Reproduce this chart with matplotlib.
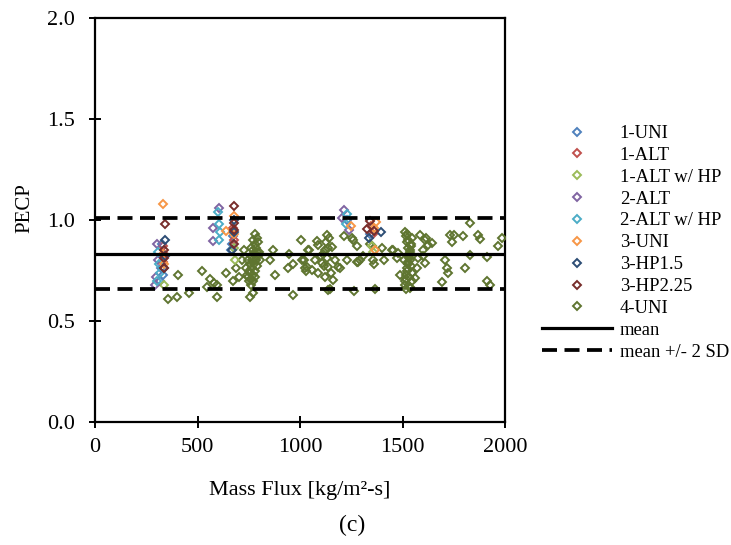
import matplotlib
matplotlib.use("Agg")
import matplotlib.pyplot as plt

plt.rcParams['font.family'] = ['Liberation Serif', 'DejaVu Serif']

# ---------------- data ----------------
series_names = ["1-UNI", "1-ALT", "1-ALT w/ HP", "2-ALT", "2-ALT w/ HP",
                "3-UNI", "3-HP1.5", "3-HP2.25", "4-UNI"]
series_colors = ["#4F81BD", "#C0504D", "#9BBB59", "#8064A2", "#4BACC6",
                 "#F79646", "#2C4D75", "#772C2A", "#5F7530"]

uni1_x = [318, 322, 325, 328, 330, 665, 672, 670, 1230, 1340]
uni1_y = [0.70, 0.76, 0.82, 0.88, 0.73, 0.85, 0.92, 0.88, 1.00, 0.93]

alt1_x = [330, 332, 335, 672, 676, 1345, 1355]
alt1_y = [0.87, 0.79, 0.83, 0.96, 0.90, 0.97, 0.93]

alt1hp_x = [335, 680, 682, 1350, 1358]
alt1hp_y = [0.68, 0.86, 0.80, 0.87, 0.84]

alt2_x = [300, 298, 295, 305, 578, 574, 605, 1213, 1205, 1240]
alt2_y = [0.88, 0.72, 0.68, 0.80, 0.96, 0.895, 1.06, 1.05, 1.01, 0.95]

alt2hp_x = [305, 310, 300, 315, 602, 605, 610, 605, 1229, 1222]
alt2hp_y = [0.84, 0.78, 0.70, 0.74, 1.04, 0.98, 0.94, 0.90, 1.03, 0.98]

uni3_x = [332, 330, 335, 637, 678, 678, 1249, 1372, 1360, 1365]
uni3_y = [1.08, 0.83, 0.78, 0.945, 1.02, 0.93, 0.97, 0.99, 0.96, 0.85]

hp15_x = [340, 340, 338, 678, 678, 670, 1395, 1335]
hp15_y = [0.90, 0.82, 0.76, 1.00, 0.94, 0.85, 0.94, 0.91]

hp225_x = [340, 335, 338, 336, 678, 678, 678, 676, 1343, 1327, 1359]
hp225_y = [0.98, 0.85, 0.81, 0.76, 1.07, 0.985, 0.88, 0.95, 0.995, 0.953, 0.945]

uni4_x = [405, 355, 400, 458, 523, 548, 563, 580, 596, 596, 641, 674, 690, 700, 715, 725,
          745, 750, 755, 760, 765, 770, 775, 780, 785, 790, 760, 770, 780, 790, 795,
          785, 775, 765, 755, 750, 740, 772, 782, 788, 795, 760, 748, 735, 760, 770,
          780, 756, 770, 805, 800,
          868, 856, 877, 945, 966, 940, 1005, 966, 1010, 1022, 1043, 1027, 1019,
          1130, 1089, 1122, 1155, 1171, 1187, 1138, 1106, 1073, 1041, 1033, 1057, 1089,
          1122, 1162, 1138, 1145, 1110, 1125, 1100, 1140, 1115, 1135, 1150, 1130, 1084,
          1213, 1254, 1278, 1229, 1294, 1197, 1262, 1260, 1285, 1309, 1276,
          1351, 1355, 1360, 1366, 1341, 1400, 1408, 1448, 1473, 1455,
          1510, 1515, 1520, 1525, 1530, 1535, 1540, 1545, 1510, 1515, 1520, 1525, 1530,
          1535, 1540, 1545, 1512, 1518, 1522, 1528, 1532, 1538, 1542, 1520, 1525, 1530,
          1515, 1535, 1505, 1548,
          1585, 1610, 1626, 1602, 1577, 1610, 1569, 1561, 1537, 1488, 1480, 1643, 1615,
          1732, 1707, 1715, 1723, 1691, 1741, 1749, 1797, 1830, 1805, 1830, 1870, 1878,
          1911, 1911, 1927, 1967, 1984, 1600]
uni4_y = [0.73, 0.61, 0.62, 0.64, 0.75, 0.67, 0.71, 0.69, 0.68, 0.62, 0.74, 0.70, 0.76, 0.72, 0.80, 0.85,
          0.72, 0.70, 0.74, 0.71, 0.76, 0.73, 0.78, 0.75, 0.80, 0.77, 0.82, 0.85, 0.88, 0.91, 0.89,
          0.86, 0.83, 0.80, 0.78, 0.75, 0.73, 0.90, 0.93, 0.84, 0.82, 0.86, 0.80, 0.76, 0.68, 0.70,
          0.72, 0.62, 0.64, 0.80, 0.84,
          0.85, 0.80, 0.73, 0.83, 0.78, 0.76, 0.90, 0.63, 0.80, 0.76, 0.85, 0.75, 0.80,
          0.926, 0.876, 0.851, 0.868, 0.80, 0.768, 0.768, 0.785, 0.80, 0.851, 0.768, 0.752, 0.736,
          0.719, 0.702, 0.653, 0.66, 0.83, 0.89, 0.82, 0.91, 0.77, 0.86, 0.74, 0.81, 0.895,
          0.92, 0.91, 0.87, 0.80, 0.80, 0.76, 0.65, 0.90, 0.79, 0.82, 0.79,
          0.87, 0.80, 0.78, 0.66, 0.88, 0.86, 0.80, 0.85, 0.81, 0.85,
          0.70, 0.73, 0.76, 0.79, 0.82, 0.85, 0.88, 0.91, 0.94, 0.92, 0.89, 0.86, 0.83,
          0.80, 0.77, 0.74, 0.68, 0.71, 0.75, 0.78, 0.81, 0.84, 0.87, 0.93, 0.90, 0.72,
          0.66, 0.67, 0.80, 0.70,
          0.926, 0.90, 0.876, 0.851, 0.81, 0.785, 0.76, 0.711, 0.661, 0.727, 0.835, 0.887, 0.912,
          0.926, 0.80, 0.76, 0.736, 0.694, 0.89, 0.928, 0.92, 0.986, 0.764, 0.825, 0.928, 0.904,
          0.818, 0.698, 0.677, 0.87, 0.912, 0.82]

mean_val = 0.834
upper_val = 1.008
lower_val = 0.660

x_ticks = [0, 500, 1000, 1500, 2000]
y_ticks = [0.0, 0.5, 1.0, 1.5, 2.0]

# ---------------- figure ----------------
W, H = 731, 545
fig = plt.figure(figsize=(W / 100, H / 100), dpi=100)
ax = fig.add_axes([95 / W, 1 - 422 / H, 410 / W, 404 / H])

all_x = [uni1_x, alt1_x, alt1hp_x, alt2_x, alt2hp_x, uni3_x, hp15_x, hp225_x, uni4_x]
all_y = [uni1_y, alt1_y, alt1hp_y, alt2_y, alt2hp_y, uni3_y, hp15_y, hp225_y, uni4_y]
order = [8, 0, 1, 2, 3, 4, 5, 6, 7]
handles = [None] * 9
for i in order:
    h, = ax.plot(all_x[i], all_y[i], linestyle='none', marker='D', markersize=4.0,
                 markerfacecolor='none', markeredgecolor=series_colors[i],
                 markeredgewidth=1.4, label=series_names[i], zorder=3)
    handles[i] = h

hm, = ax.plot([0, 2000], [mean_val, mean_val], color='black', lw=2.3, zorder=4, label='mean')
hs, = ax.plot([0, 2000], [upper_val, upper_val], color='black', lw=2.7,
              linestyle=(0, (4, 2)), zorder=4, label='mean +/- 2 SD')
ax.plot([0, 2000], [lower_val, lower_val], color='black', lw=2.7,
        linestyle=(0, (4, 2)), zorder=4)

ax.set_xlim(0, 2000)
ax.set_ylim(0, 2.0)
ax.set_xticks(x_ticks)
ax.set_yticks(y_ticks)
ax.set_xticklabels([str(v) for v in x_ticks])
ax.set_yticklabels([f"{v:.1f}" for v in y_ticks])
for s in ax.spines.values():
    s.set_linewidth(1.6)
ax.tick_params(direction='inout', length=9, width=1.4, labelsize=16)
ax.tick_params(axis='y', pad=10)
ax.tick_params(axis='x', pad=7)

fig.text(300 / W, 1 - 495 / H, "Mass Flux [kg/m\u00b2-s]", fontsize=16,
         ha='center', va='baseline')
fig.text(25 / W, 1 - 208 / H, "PECP", rotation=90, fontsize=15, ha='center', va='center')
fig.text(352 / W, 1 - 531 / H, "(c)", fontsize=17, ha='center', va='baseline')

leg = fig.legend(handles + [hm, hs], series_names + ['mean', 'mean +/- 2 SD'],
                 loc='upper left', bbox_to_anchor=(542 / W, 1 - 125 / H),
                 frameon=False, fontsize=13.4, handlelength=3.75, handletextpad=0.43,
                 labelspacing=0.26, borderaxespad=0, borderpad=0)

fig.savefig("out.png", dpi=100)
